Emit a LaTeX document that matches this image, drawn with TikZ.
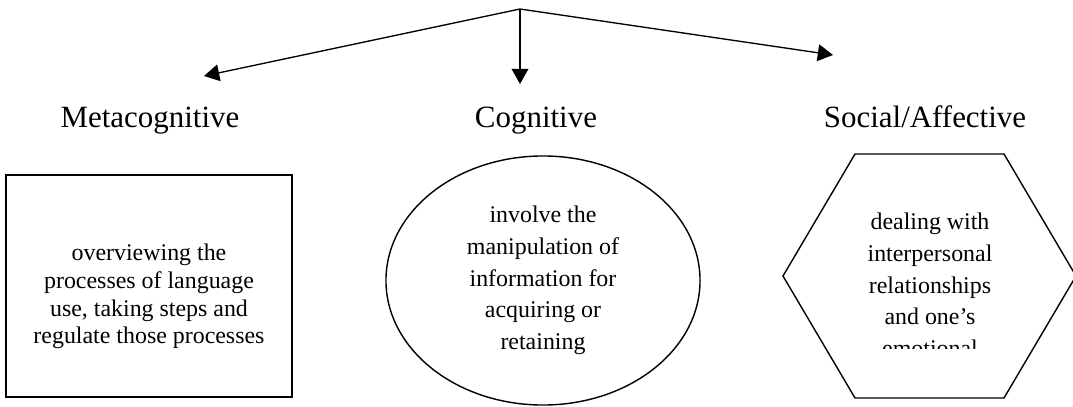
\documentclass[tikz,border=0pt]{standalone}
\usepackage{fontspec}
\setmainfont{Liberation Serif}
\usetikzlibrary{shapes, arrows.meta, positioning, calc}

\begin{document}
\begin{tikzpicture}[
        x=0.025cm, y=-0.025cm,
        head/.style={font=\fontsize{22}{26}\selectfont, anchor=base, inner sep=0pt},
        body/.style={font=\fontsize{17}{22.5}\selectfont, align=center, inner sep=0pt},
        shapeline/.style={draw=black, line width=1pt},
        branch/.style={-{Triangle[length=0.38cm, width=0.42cm]}, line width=0.95pt, draw=black}
    ]
        \useasboundingbox (0,0) rectangle (1073,407);
        \coordinate (root) at (520,9);
        \coordinate (metatip) at (204,76);
        \coordinate (cogtip) at (520,84);
        \coordinate (soctip) at (833,55);
        \draw[branch] (root) -- (metatip);
        \draw[branch] (root) -- (cogtip);
        \draw[branch] (root) -- (soctip);
        \node[head] (meta) at (150,128) {Metacognitive};
        \node[head] (cog) at (536,128) {Cognitive};
        \node[head] (soc) at (925,128) {Social/Affective};
        \node[shapeline, line width=1.3pt, rectangle, minimum width=7.15cm, minimum height=5.55cm] (metabox) at (149,286) {};
        \node[body, font=\fontsize{17}{19.7}\selectfont] (metatext) at (149,296.5) {overviewing the\\processes of language\\use, taking steps and\\regulate those processes};
        \node[shapeline, ellipse, body, minimum width=7.85cm, minimum height=6.225cm] (cogbox) at (543,280.5) {involve the\\manipulation of\\information for\\acquiring or\\retaining};
        \coordinate (hexc) at (929.5,276);
        \draw[shapeline] ($(hexc)+(-146.5,0)$) -- ++(72,-122) -- ++(149,0) -- ++(72,122) -- ++(-72,122) -- ++(-149,0) -- cycle;
        \begin{scope}
            \clip (783,150) rectangle (1076,348);
            \node[body] (soctext) at (930,285) {dealing with\\interpersonal\\relationships\\and one’s\\emotional};
        \end{scope}
    \end{tikzpicture}
\end{document}
